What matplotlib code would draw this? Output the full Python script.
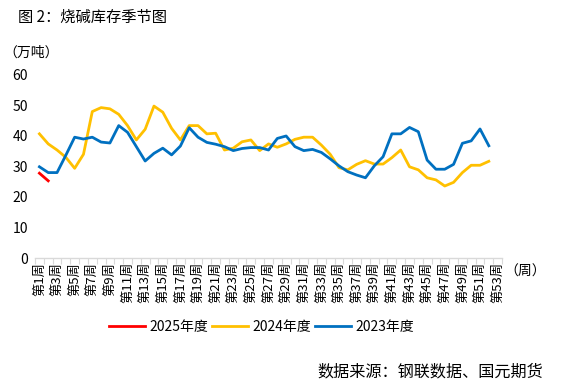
import numpy as np
import matplotlib
matplotlib.use('Agg')
import matplotlib.pyplot as plt

plt.rcParams['font.family'] = ['Noto Sans CJK SC', 'DejaVu Sans']

# 周次
weeks = ['第%d周' % i for i in range(1, 54)]

# 库存（万吨）
y2025 = [27.8, 25.3]
y2024 = [40.7, 37.4, 35.4, 33.0, 29.4, 34.0, 48.0, 49.3, 48.9, 47.1,
         43.4, 38.7, 42.2, 49.8, 47.8, 42.5, 38.7, 43.4, 43.4, 40.7,
         40.9, 35.4, 36.0, 38.1, 38.7, 35.2, 37.4, 36.3, 37.4, 38.9,
         39.6, 39.6, 37.0, 34.0, 29.6, 28.9, 30.7, 31.9, 30.8, 30.8,
         32.9, 35.4, 29.9, 28.9, 26.3, 25.6, 23.6, 24.8, 28.0, 30.4,
         30.4, 31.7]
y2023 = [29.9, 28.0, 28.0, 33.7, 39.6, 39.0, 39.6, 38.0, 37.7, 43.4,
         41.2, 36.5, 31.8, 34.3, 36.0, 33.8, 36.7, 42.7, 39.6, 37.9,
         37.3, 36.5, 35.2, 35.9, 36.2, 36.2, 35.4, 39.2, 40.0, 36.5,
         35.2, 35.6, 34.6, 32.5, 30.2, 28.3, 27.2, 26.3, 30.2, 33.2,
         40.7, 40.7, 42.8, 41.4, 32.1, 29.1, 29.1, 30.7, 37.6, 38.4,
         42.3, 36.8]

fig = plt.figure(figsize=(5.62, 3.87), dpi=100)
ax = fig.add_axes([0.0623, 0.3333, 0.831, 0.473])

ax.plot(np.arange(len(y2025)), y2025, color='#FF0000', lw=2.0, label='2025年度')
ax.plot(np.arange(len(y2024)), y2024, color='#FFC000', lw=2.0, label='2024年度')
ax.plot(np.arange(len(y2023)), y2023, color='#0070C0', lw=2.0, label='2023年度')

ax.set_xlim(-0.5, len(weeks) - 0.5)
ax.set_ylim(0, 60)
ax.set_yticks(range(0, 61, 10))
ax.tick_params(axis='y', length=0, labelsize=10, pad=5)

ax.set_xticks(np.arange(0, len(weeks), 2))
ax.set_xticklabels(weeks[::2], rotation=90, fontsize=9.5, va='top', ha='center')
ax.set_xticks(np.arange(-0.5, len(weeks), 1), minor=True)
ax.tick_params(axis='x', which='major', length=0, pad=3)
ax.tick_params(axis='x', which='minor', length=4, color='#d9d9d9', width=0.8)

for s in ['top', 'right', 'left']:
    ax.spines[s].set_visible(False)
ax.spines['bottom'].set_color('#d9d9d9')
ax.spines['bottom'].set_linewidth(1.0)

fig.text(0.032, 0.955, '图 2：烧碱库存季节图', fontsize=11, va='center')
fig.text(0.006, 0.865, '（万吨）', fontsize=10, va='center')
fig.text(0.897, 0.297, '（周）', fontsize=10, va='center')
fig.text(0.966, 0.04, '数据来源：钢联数据、国元期货', fontsize=11.6, ha='right', va='center')

fig.legend(loc='center', bbox_to_anchor=(0.465, 0.155), ncol=3, frameon=False,
           fontsize=10, handlelength=2.6, handletextpad=0.3, columnspacing=0.3)

fig.savefig('out.png', dpi=100)
